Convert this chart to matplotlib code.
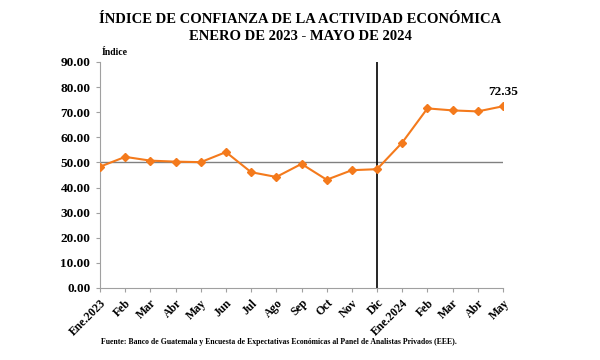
import matplotlib
matplotlib.use("Agg")
import matplotlib.pyplot as plt

months = ["Ene.2023", "Feb", "Mar", "Abr", "May", "Jun", "Jul", "Ago", "Sep",
          "Oct", "Nov", "Dic", "Ene.2024", "Feb", "Mar", "Abr", "May"]
icae = [48.3, 52.2, 50.7, 50.3, 50.1, 54.1, 46.1, 44.2, 49.4,
        43.1, 46.9, 47.3, 57.9, 71.5, 70.7, 70.3, 72.35]
threshold = 50.0
yticks = [0, 10, 20, 30, 40, 50, 60, 70, 80, 90]

plt.rcParams["font.family"] = ["Liberation Serif", "DejaVu Serif"]
plt.rcParams["font.weight"] = "bold"

fig = plt.figure(figsize=(6, 3.6), dpi=100)
ax = fig.add_axes([0.1667, 0.2, 0.6716, 0.628])

x = list(range(len(months)))
ax.plot(x, icae, color="#f47a1c", lw=1.5, marker="D", ms=4.3, zorder=3)
ax.plot([x[0], x[-1]], [threshold, threshold], color="#808080", lw=1.0, zorder=2)
ax.axvline(11, color="black", lw=1.2, zorder=2)

ax.annotate(f"{icae[-1]:.2f}", (x[-1], icae[-1]), xytext=(0, 6),
            textcoords="offset points", ha="center", va="bottom",
            fontsize=9.5, fontweight="bold")

ax.set_xlim(0, len(months) - 1)
ax.set_ylim(0, 90)
ax.set_yticks(yticks)
ax.set_yticklabels([f"{v:.2f}" for v in yticks], fontsize=9.5, fontweight="bold")
ax.set_xticks(x)
ax.set_xticklabels(months, rotation=45, ha="right", rotation_mode="anchor",
                   fontsize=8.5, fontweight="bold")

for s in ["top", "right"]:
    ax.spines[s].set_visible(False)
for s in ["left", "bottom"]:
    ax.spines[s].set_color("#a0a0a0")
ax.tick_params(axis="both", color="#a0a0a0", length=3, width=0.8)
ax.tick_params(axis="y", pad=4)

ax.text(0.005, 1.02, "Índice", transform=ax.transAxes, fontsize=7,
        fontweight="bold", ha="left", va="bottom")

fig.text(0.5, 0.945, "ÍNDICE DE CONFIANZA DE LA ACTIVIDAD ECONÓMICA",
         ha="center", va="center", fontsize=10.5, fontweight="bold")
fig.text(0.5, 0.9, "ENERO DE 2023 - MAYO DE 2024",
         ha="center", va="center", fontsize=10.5, fontweight="bold")
fig.text(0.168, 0.05,
         "Fuente: Banco de Guatemala y Encuesta de Expectativas Económicas al Panel de Analistas Privados (EEE).",
         ha="left", va="center", fontsize=5.6, fontweight="bold")

fig.savefig("out.png", dpi=100)
